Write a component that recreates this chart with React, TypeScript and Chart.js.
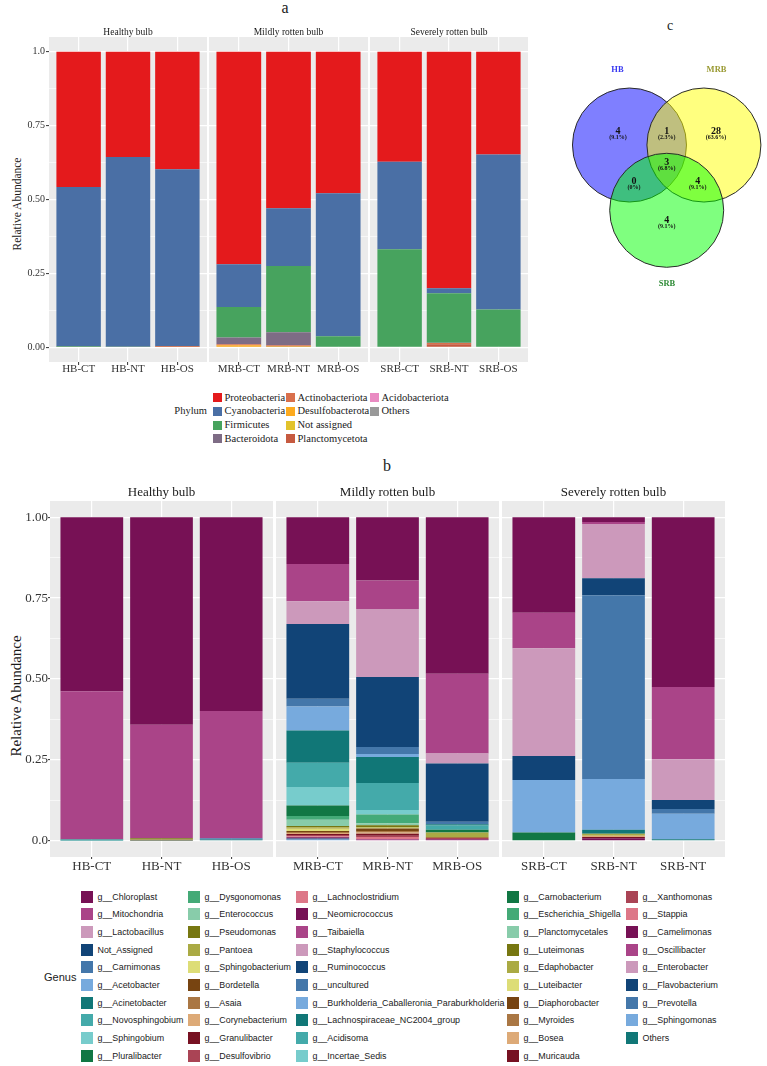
import React, { useEffect, useRef } from "react";
import { Chart, registerables } from "chart.js";

Chart.register(...registerables);

const SERIF = '"Liberation Serif", "Times New Roman", serif';
const SANS = '"Liberation Sans", Arial, sans-serif';

// ---------- shared axis settings ----------
const facetTitles = ["Healthy bulb", "Mildly rotten bulb", "Severely rotten bulb"];
const phylumSampleLabels = ["HB-CT", "HB-NT", "HB-OS", "MRB-CT", "MRB-NT", "MRB-OS", "SRB-CT", "SRB-NT", "SRB-OS"];
const genusSampleLabels = ["HB-CT", "HB-NT", "HB-OS", "MRB-CT", "MRB-NT", "MRB-OS", "SRB-CT", "SRB-NT", "SRB-NT"];
const yMajorValues = [0, 0.25, 0.5, 0.75, 1];
const yMinorValues = [0.125, 0.375, 0.625, 0.875];
const yTickLabelsA = ["0.00", "0.25", "0.50", "0.75", "1.0"];
const yTickLabelsB = ["0.0", "0.25", "0.50", "0.75", "1.00"];

// ---------- panel a: phylum relative abundance (9 samples) ----------
const phylumNames = [
  "Proteobacteria", "Cyanobacteria", "Firmicutes", "Bacteroidota", "Actinobacteriota",
  "Desulfobacterota", "Not assigned", "Planctomycetota", "Acidobacteriota", "Others",
];
const phylumColors = [
  "#E41A1C", "#4A6FA5", "#47A35E", "#7E6C85", "#D9704C",
  "#FDAA1E", "#E2C32C", "#C65A40", "#E98BC2", "#999999",
];
const proteobacteria = [0.458, 0.356, 0.398, 0.719, 0.530, 0.479, 0.372, 0.800, 0.348];
const cyanobacteria = [0.539, 0.642, 0.598, 0.145, 0.195, 0.484, 0.296, 0.017, 0.524];
const firmicutes = [0.002, 0.001, 0.001, 0.103, 0.224, 0.037, 0.332, 0.168, 0.128];
const bacteroidota = [0.0005, 0.0005, 0, 0.023, 0.044, 0, 0, 0.001, 0];
const actinobacteriota = [0, 0, 0.002, 0.003, 0.004, 0, 0, 0.004, 0];
const desulfobacterota = [0, 0, 0, 0.005, 0.002, 0, 0, 0, 0];
const notAssignedPhylum = [0, 0, 0, 0.002, 0, 0, 0, 0, 0];
const planctomycetota = [0, 0, 0.001, 0, 0, 0, 0, 0.010, 0];
const acidobacteriota = [0, 0, 0, 0, 0, 0, 0, 0, 0];
const otherPhyla = [0.0005, 0.0005, 0, 0, 0.001, 0, 0, 0, 0];
const phylumValues = [
  proteobacteria, cyanobacteria, firmicutes, bacteroidota, actinobacteriota,
  desulfobacterota, notAssignedPhylum, planctomycetota, acidobacteriota, otherPhyla,
];

// ---------- panel b: genus relative abundance ----------
const genusNames = [
  "g__Chloroplast", "g__Mitochondria", "g__Lactobacillus", "Not_Assigned", "g__Carnimonas",
  "g__Acetobacter", "g__Acinetobacter", "g__Novosphingobium", "g__Sphingobium", "g__Pluralibacter",
  "g__Dysgonomonas", "g__Enterococcus", "g__Pseudomonas", "g__Pantoea", "g__Sphingobacterium",
  "g__Bordetella", "g__Asaia", "g__Corynebacterium", "g__Granulibacter", "g__Desulfovibrio",
  "g__Lachnoclostridium", "g__Neomicrococcus", "g__Taibaiella", "g__Staphylococcus", "g__Ruminococcus",
  "g__uncultured", "g__Burkholderia_Caballeronia_Paraburkholderia", "g__Lachnospiraceae_NC2004_group", "g__Acidisoma", "g__Incertae_Sedis",
  "g__Carnobacterium", "g__Escherichia_Shigella", "g__Planctomycetales", "g__Luteimonas", "g__Edaphobacter",
  "g__Luteibacter", "g__Diaphorobacter", "g__Myroides", "g__Bosea", "g__Muricauda",
  "g__Xanthomonas", "g__Stappia", "g__Camelimonas", "g__Oscillibacter", "g__Enterobacter",
  "g__Flavobacterium", "g__Prevotella", "g__Sphingomonas", "Others",
];
const genusPalette = [
  "#771155", "#AA4488", "#CC99BB", "#114477", "#4477AA", "#77AADD", "#117777",
  "#44AAAA", "#77CCCC", "#117744", "#44AA77", "#88CCAA", "#777711", "#AAAA44",
  "#DDDD77", "#774411", "#AA7744", "#DDAA77", "#771122", "#AA4455", "#DD7788",
];

type Share = [string, number];
const hbCT: Share[] = [["g__Chloroplast", 0.538], ["g__Mitochondria", 0.457], ["g__Acinetobacter", 0.002], ["g__Novosphingobium", 0.002], ["Others", 0.001]];
const hbNT: Share[] = [["g__Chloroplast", 0.641], ["g__Mitochondria", 0.351], ["g__Pseudomonas", 0.003], ["g__Pantoea", 0.002], ["g__Bordetella", 0.002], ["Others", 0.001]];
const hbOS: Share[] = [["g__Chloroplast", 0.599], ["g__Mitochondria", 0.393], ["g__Carnimonas", 0.004], ["g__Acinetobacter", 0.002], ["Others", 0.002]];
const mrbCT: Share[] = [
  ["g__Chloroplast", 0.145], ["g__Mitochondria", 0.115], ["g__Lactobacillus", 0.070], ["Not_Assigned", 0.231],
  ["g__Carnimonas", 0.024], ["g__Acetobacter", 0.074], ["g__Acinetobacter", 0.100], ["g__Novosphingobium", 0.075],
  ["g__Sphingobium", 0.057], ["g__Pluralibacter", 0.032], ["g__Dysgonomonas", 0.012], ["g__Enterococcus", 0.019],
  ["g__Pseudomonas", 0.004], ["g__Pantoea", 0.005], ["g__Sphingobacterium", 0.007], ["g__Bordetella", 0.003],
  ["g__Asaia", 0.003], ["g__Corynebacterium", 0.003], ["g__Granulibacter", 0.003], ["g__Desulfovibrio", 0.004],
  ["g__Lachnoclostridium", 0.003], ["g__Neomicrococcus", 0.002], ["g__Taibaiella", 0.002], ["g__Ruminococcus", 0.002],
  ["g__uncultured", 0.002], ["g__Burkholderia_Caballeronia_Paraburkholderia", 0.001], ["Others", 0.002],
];
const mrbNT: Share[] = [
  ["g__Chloroplast", 0.196], ["g__Mitochondria", 0.088], ["g__Lactobacillus", 0.210], ["Not_Assigned", 0.216],
  ["g__Carnimonas", 0.022], ["g__Acetobacter", 0.009], ["g__Acinetobacter", 0.080], ["g__Novosphingobium", 0.084],
  ["g__Sphingobium", 0.014], ["g__Dysgonomonas", 0.027], ["g__Enterococcus", 0.006], ["g__Pseudomonas", 0.005],
  ["g__Pantoea", 0.003], ["g__Sphingobacterium", 0.002], ["g__Bordetella", 0.008], ["g__Asaia", 0.004],
  ["g__Corynebacterium", 0.004], ["g__Granulibacter", 0.006], ["g__Desulfovibrio", 0.004], ["g__Lachnoclostridium", 0.006],
  ["g__Neomicrococcus", 0.002], ["g__Taibaiella", 0.002], ["Others", 0.002],
];
const mrbOS: Share[] = [
  ["g__Chloroplast", 0.484], ["g__Mitochondria", 0.246], ["g__Lactobacillus", 0.031], ["Not_Assigned", 0.180],
  ["g__Carnimonas", 0.008], ["g__Acinetobacter", 0.004], ["g__Novosphingobium", 0.013], ["g__Pluralibacter", 0.008],
  ["g__Pantoea", 0.014], ["g__Asaia", 0.003], ["g__Desulfovibrio", 0.003], ["g__Neomicrococcus", 0.003], ["g__Taibaiella", 0.003],
];
const srbCT: Share[] = [
  ["g__Chloroplast", 0.295], ["g__Mitochondria", 0.110], ["g__Lactobacillus", 0.333], ["Not_Assigned", 0.074],
  ["g__Acetobacter", 0.162], ["g__Pluralibacter", 0.026],
];
const srbNT: Share[] = [
  ["g__Chloroplast", 0.015], ["g__Mitochondria", 0.006], ["g__Lactobacillus", 0.168], ["Not_Assigned", 0.052],
  ["g__Carnimonas", 0.568], ["g__Acetobacter", 0.157], ["g__Acinetobacter", 0.012], ["g__Pantoea", 0.006],
  ["g__Corynebacterium", 0.004], ["g__Granulibacter", 0.004], ["g__Neomicrococcus", 0.008],
];
const srbOS: Share[] = [
  ["g__Chloroplast", 0.525], ["g__Mitochondria", 0.223], ["g__Lactobacillus", 0.126], ["Not_Assigned", 0.028],
  ["g__Carnimonas", 0.014], ["g__Acetobacter", 0.079], ["g__Acinetobacter", 0.005],
];
const genusSamples = [hbCT, hbNT, hbOS, mrbCT, mrbNT, mrbOS, srbCT, srbNT, srbOS];

// ---------- panel c: Venn counts ----------
const vennSets = ["HB", "MRB", "SRB"];
const vennSetColors = ["#3A3AF2", "#9A9A33", "#2E8B36"];
const vennFills = ["rgba(0,0,255,0.5)", "rgba(255,255,0,0.5)", "rgba(0,255,0,0.5)"];
// regions: HB only, HB∩MRB, MRB only, all three, HB∩SRB, MRB∩SRB, SRB only
const vennCounts = [4, 1, 28, 3, 0, 4, 4];

// ---------- chart helpers ----------
type Series = { label: string; color: string; values: number[] };
type FacetSpec = {
  left: number; top: number; width: number; height: number;
  padTop: number; yAxisWidth: number; xAxisHeight: number;
  labels: string[]; series: Series[]; strip: string;
  stripSize: number; stripGap: number; xFont: number; yFont: number;
  yLabels: string[] | null; tickLen: number; xPad: number; yPad: number;
};

const panelBackground = {
  id: "panelBackground",
  beforeDraw(chart: any) {
    const { ctx, chartArea: a } = chart;
    ctx.save();
    ctx.fillStyle = "#EBEBEB";
    ctx.fillRect(a.left, a.top, a.right - a.left, a.bottom - a.top);
    ctx.restore();
  },
};

function makeStrip(text: string, size: number, gap: number) {
  return {
    id: "stripLabel",
    afterDraw(chart: any) {
      const { ctx, chartArea: a } = chart;
      ctx.save();
      ctx.font = `${size}px ${SERIF}`;
      ctx.fillStyle = "#1A1A1A";
      ctx.textAlign = "center";
      ctx.textBaseline = "middle";
      ctx.fillText(text, (a.left + a.right) / 2, a.top - gap);
      ctx.restore();
    },
  };
}

const isMajor = (v: number) => yMajorValues.includes(v);

function Facet({ spec }: { spec: FacetSpec }) {
  const ref = useRef<HTMLCanvasElement | null>(null);
  useEffect(() => {
    const s = spec;
    const showY = s.yLabels !== null;
    const yGrid = [...yMajorValues, ...yMinorValues].sort((p, q) => p - q);
    const chart = new Chart(ref.current as HTMLCanvasElement, {
      type: "bar",
      data: {
        datasets: s.series.slice().reverse().map((ser) => ({
          label: ser.label,
          data: ser.values.map((v, i) => ({ x: i + 1, y: v })),
          backgroundColor: ser.color,
          borderWidth: 0,
          barPercentage: 0.9,
          categoryPercentage: 1,
        })),
      },
      options: {
        responsive: false,
        animation: false,
        events: [],
        layout: { autoPadding: false, padding: { top: s.padTop, left: 0, right: 0, bottom: 0 } },
        plugins: { legend: { display: false }, tooltip: { enabled: false } },
        scales: {
          x: {
            type: "linear",
            min: 0.4,
            max: 3.6,
            stacked: true,
            offset: false,
            afterBuildTicks: (axis: any) => {
              axis.ticks = s.labels.map((_, i) => ({ value: i + 1 }));
            },
            afterFit: (axis: any) => {
              axis.height = s.xAxisHeight;
            },
            border: { display: false },
            grid: {
              color: "#FFFFFF",
              lineWidth: 1.2,
              offset: false,
              drawTicks: true,
              tickLength: s.tickLen,
              tickColor: "#333333",
              tickWidth: 1,
            },
            ticks: {
              autoSkip: false,
              maxRotation: 0,
              padding: s.xPad,
              color: "#333333",
              font: { family: SERIF, size: s.xFont },
              callback: (v: any) => s.labels[Math.round(Number(v)) - 1] ?? "",
            },
          },
          y: {
            type: "linear",
            min: -0.05,
            max: 1.05,
            stacked: true,
            afterBuildTicks: (axis: any) => {
              axis.ticks = yGrid.map((v) => ({ value: v }));
            },
            afterFit: (axis: any) => {
              axis.width = s.yAxisWidth;
            },
            border: { display: false },
            grid: {
              color: "#FFFFFF",
              lineWidth: (c: any) => (c.tick && isMajor(c.tick.value) ? 1.2 : 0.6),
              drawTicks: showY,
              tickLength: s.tickLen,
              tickColor: (c: any) => (c.tick && isMajor(c.tick.value) ? "#333333" : "rgba(0,0,0,0)"),
              tickWidth: 1,
            },
            ticks: {
              display: showY,
              autoSkip: false,
              padding: s.yPad,
              color: "#333333",
              font: { family: SERIF, size: s.yFont },
              callback: (v: any) => {
                const i = yMajorValues.indexOf(Number(v));
                return i >= 0 && s.yLabels ? s.yLabels[i] : "";
              },
            },
          },
        },
      } as any,
      plugins: [panelBackground, makeStrip(s.strip, s.stripSize, s.stripGap)],
    });
    return () => chart.destroy();
  }, [spec]);
  return (
    <canvas
      ref={ref}
      width={spec.width}
      height={spec.height}
      style={{ position: "absolute", left: spec.left, top: spec.top, width: spec.width, height: spec.height }}
    />
  );
}

// ---------- facet specs ----------
const phylumFacetBoxes = [
  { left: 0, width: 207, yAxisWidth: 49 },
  { left: 209, width: 159, yAxisWidth: 0 },
  { left: 370, width: 158, yAxisWidth: 0 },
];
const phylumFacets: FacetSpec[] = phylumFacetBoxes.map((b, f) => ({
  left: b.left, top: 20, width: b.width, height: 365,
  padTop: 17, yAxisWidth: b.yAxisWidth, xAxisHeight: 23,
  labels: phylumSampleLabels.slice(f * 3, f * 3 + 3),
  series: phylumNames.map((n, i) => ({
    label: n, color: phylumColors[i], values: phylumValues[i].slice(f * 3, f * 3 + 3),
  })),
  strip: facetTitles[f], stripSize: 9.5, stripGap: 5,
  xFont: 11, yFont: 10, yLabels: f === 0 ? yTickLabelsA : null,
  tickLen: 3, xPad: -2, yPad: 1,
}));

const genusValue = (sample: Share[], name: string) => {
  const hit = sample.find((p) => p[0] === name);
  return hit ? hit[1] : 0;
};
const genusFacetBoxes = [
  { left: 0, width: 273, yAxisWidth: 50 },
  { left: 276, width: 223, yAxisWidth: 0 },
  { left: 502, width: 223, yAxisWidth: 0 },
];
const genusFacets: FacetSpec[] = genusFacetBoxes.map((b, f) => ({
  left: b.left, top: 480, width: b.width, height: 405,
  padTop: 21, yAxisWidth: b.yAxisWidth, xAxisHeight: 28,
  labels: genusSampleLabels.slice(f * 3, f * 3 + 3),
  series: genusNames.map((n, i) => ({
    label: n,
    color: genusPalette[i % genusPalette.length],
    values: [0, 1, 2].map((k) => genusValue(genusSamples[f * 3 + k], n)),
  })),
  strip: facetTitles[f], stripSize: 13, stripGap: 8,
  xFont: 13, yFont: 13, yLabels: f === 0 ? yTickLabelsB : null,
  tickLen: 2, xPad: 0, yPad: 0,
}));

// ---------- Venn diagram (bubble chart, radius in px) ----------
const VENN_R = 57;
const vennCenters = [[-0.653, 0.382], [0.653, 0.382], [0, -0.763]];
const vennRegionPos = [[-0.854, 0.628], [0, 0.628], [0.865, 0.628], [0, 0.072], [-0.574, -0.249], [0.544, -0.249], [0, -0.933]];
const vennNamePos = [[-0.863, 1.698], [0.874, 1.698], [0.005, -2.056]];

const vennText = {
  id: "vennText",
  afterDatasetsDraw(chart: any) {
    const { ctx, scales } = chart;
    const px = (v: number) => scales.x.getPixelForValue(v);
    const py = (v: number) => scales.y.getPixelForValue(v);
    const total = vennCounts.reduce((s, c) => s + c, 0);
    ctx.save();
    ctx.textAlign = "center";
    ctx.textBaseline = "middle";
    vennSets.forEach((name, i) => {
      ctx.font = `bold 8.5px ${SERIF}`;
      ctx.fillStyle = vennSetColors[i];
      ctx.fillText(name, px(vennNamePos[i][0]), py(vennNamePos[i][1]));
    });
    ctx.fillStyle = "#111111";
    vennCounts.forEach((c, i) => {
      const x = px(vennRegionPos[i][0]);
      const y = py(vennRegionPos[i][1]);
      const pct = c === 0 ? "0%" : `${((c / total) * 100).toFixed(1)}%`;
      ctx.font = `bold 10px ${SERIF}`;
      ctx.fillText(String(c), x, y);
      ctx.font = `bold 6px ${SERIF}`;
      ctx.fillText(`(${pct})`, x, y + 6);
    });
    ctx.restore();
  },
};

function Venn() {
  const ref = useRef<HTMLCanvasElement | null>(null);
  const box = { left: 560, top: 50, width: 207, height: 245 };
  useEffect(() => {
    // 1 unit = VENN_R px; centroid placed at canvas (106.7, 116.8)
    const xMin = -106.7 / VENN_R;
    const xMax = xMin + box.width / VENN_R;
    const yMax = 116.8 / VENN_R;
    const yMin = yMax - box.height / VENN_R;
    const chart = new Chart(ref.current as HTMLCanvasElement, {
      type: "bubble",
      data: {
        datasets: [2, 1, 0].map((i) => ({
          label: vennSets[i],
          data: [{ x: vennCenters[i][0], y: vennCenters[i][1], r: VENN_R }],
          backgroundColor: vennFills[i],
          borderColor: "#2A2A2A",
          borderWidth: 1,
          clip: false,
        })),
      },
      options: {
        responsive: false,
        animation: false,
        events: [],
        layout: { autoPadding: false, padding: 0 },
        plugins: { legend: { display: false }, tooltip: { enabled: false } },
        scales: {
          x: { type: "linear", display: false, min: xMin, max: xMax },
          y: { type: "linear", display: false, min: yMin, max: yMax },
        },
      } as any,
      plugins: [vennText],
    });
    return () => chart.destroy();
  }, []);
  return (
    <canvas
      ref={ref}
      width={box.width}
      height={box.height}
      style={{ position: "absolute", left: box.left, top: box.top, width: box.width, height: box.height }}
    />
  );
}

// ---------- HTML text helpers ----------
function Label(props: {
  x: number; y: number; size: number; text: string; family?: string;
  rotate?: boolean; anchor?: "center" | "left" | "right"; color?: string; weight?: string;
}) {
  const { x, y, size, text, family = SERIF, rotate = false, anchor = "center", color = "#1A1A1A", weight = "normal" } = props;
  const tx = anchor === "center" ? "-50%" : anchor === "right" ? "-100%" : "0";
  return (
    <div
      style={{
        position: "absolute", left: x, top: y, fontFamily: family, fontSize: size, lineHeight: 1,
        whiteSpace: "nowrap", color, fontWeight: weight as any,
        transform: `translate(${tx}, -50%)${rotate ? " rotate(-90deg)" : ""}`,
        transformOrigin: rotate ? "50% 50%" : undefined,
      }}
    >
      {text}
    </div>
  );
}

function Swatch({ x, y, size, color }: { x: number; y: number; size: number; color: string }) {
  return <div style={{ position: "absolute", left: x, top: y - size / 2, width: size, height: size, background: color }} />;
}

export default function App() {
  const phylumColX = [213, 286, 370];
  const genusColX = [81, 188, 296, 507, 626];
  return (
    <div style={{ position: "absolute", left: 0, top: 0, width: 767, height: 1066, background: "#FFFFFF", overflow: "hidden" }}>
      {/* panel a */}
      <Label x={285} y={8} size={16} text="a" />
      <Label x={18} y={204} size={11.5} text="Relative Abundance" rotate />
      {phylumFacets.map((s, i) => (
        <Facet key={`a${i}`} spec={s} />
      ))}
      <Label x={207} y={411} size={10.5} text="Phylum" anchor="right" />
      {phylumNames.map((n, i) => {
        const col = Math.floor(i / 4);
        const y = 397.5 + (i % 4) * 13.8;
        return (
          <React.Fragment key={n}>
            <Swatch x={phylumColX[col]} y={y} size={9} color={phylumColors[i]} />
            <Label x={phylumColX[col] + 11.5} y={y} size={10.5} text={n} anchor="left" />
          </React.Fragment>
        );
      })}

      {/* panel c */}
      <Label x={670} y={26} size={14} text="c" />
      <Venn />

      {/* panel b */}
      <Label x={387} y={466} size={16} text="b" />
      <Label x={15.5} y={696} size={15} text="Relative Abundance" rotate />
      {genusFacets.map((s, i) => (
        <Facet key={`b${i}`} spec={s} />
      ))}
      <Label x={44} y={977} size={11} text="Genus" family={SANS} anchor="left" />
      {genusNames.map((n, i) => {
        const col = Math.floor(i / 10);
        const y = 896.7 + (i % 10) * 17.67;
        return (
          <React.Fragment key={n}>
            <Swatch x={genusColX[col]} y={y} size={12} color={genusPalette[i % genusPalette.length]} />
            <Label x={genusColX[col] + 16.5} y={y} size={8.9} text={n} family={SANS} anchor="left" />
          </React.Fragment>
        );
      })}
    </div>
  );
}
